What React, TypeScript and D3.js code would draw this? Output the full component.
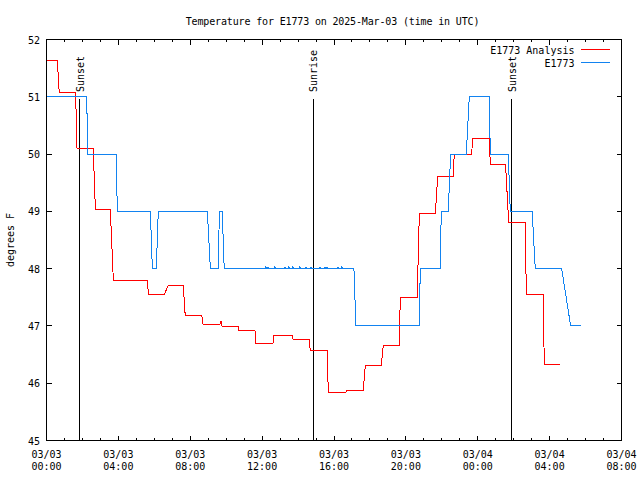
import React from "react";
import * as d3 from "d3";

const title = "Temperature for E1773 on 2025-Mar-03 (time in UTC)";
const yLabel = "degrees F";
const seriesNames = ["E1773 Analysis", "E1773"];
const seriesColors = ["#ff0000", "#1283f0"];

// hours since 2025-03-03 00:00 UTC
const analysisHours = [
  0, 0.6, 0.71, 1.62, 1.7, 2.6, 2.72, 3.55, 3.72, 5.61, 5.67, 6.56, 6.78, 7.61, 7.72, 8.64, 8.71,
  9.65, 9.71, 9.77, 10.66, 10.71, 11.6, 11.66, 12.6, 12.66, 13.66, 13.72, 14.62, 14.68, 15.63, 15.68,
  16.65, 16.71, 17.63, 17.74, 18.63, 18.74, 19.63, 19.69, 20.63, 20.75, 21.64, 21.77, 22.64, 22.69,
  23.66, 23.72, 24.64, 24.7, 25.55, 25.72, 26.65, 26.7, 27.65, 27.7, 28.58,
];
const analysisValues = [
  51.63, 51.63, 51.07, 51.07, 50.09, 50.09, 49.04, 49.04, 47.8, 47.8, 47.555, 47.555, 47.71, 47.71,
  47.18, 47.18, 47.03, 47.03, 47.08, 46.99, 46.99, 46.925, 46.925, 46.69, 46.69, 46.84, 46.84, 46.77,
  46.77, 46.57, 46.57, 45.83, 45.83, 45.87, 45.87, 46.31, 46.31, 46.66, 46.66, 47.5, 47.5, 48.97,
  48.97, 49.61, 49.61, 50.0, 50.0, 50.28, 50.28, 49.81, 49.81, 48.81, 48.81, 47.55, 47.55, 46.33,
  46.33,
];
const obsHours = [
  0, 2.24, 2.29, 3.88, 3.94, 5.78, 5.89, 6.11, 6.22, 8.95, 9.12, 9.56, 9.62, 9.78, 9.89,
  12.18, 12.21, 12.24, 12.3, 12.33, 12.36, 12.68, 12.71, 12.74, 13.24, 13.27, 13.3,
  13.46, 13.49, 13.52, 13.68, 13.71, 13.74, 14.07, 14.1, 14.13, 14.41, 14.44, 14.47,
  14.69, 14.72, 14.75, 15.19, 15.22, 15.25, 15.47, 15.5, 15.53, 15.58, 15.61, 15.64,
  16.19, 16.22, 16.25, 16.41, 16.44, 16.47,
  17.11, 17.22, 20.75, 20.8, 21.91, 21.97, 22.36, 22.49, 23.36, 23.53, 24.64, 24.7, 25.7, 25.81,
  27.03, 27.2, 28.67, 29.17, 29.73,
];
const obsValues = [
  51, 51, 50, 50, 49, 49, 48, 48, 49, 49, 48, 48, 49, 49, 48,
  48, 48.03, 48, 48, 48.03, 48, 48, 48.03, 48, 48, 48.03, 48,
  48, 48.03, 48, 48, 48.03, 48, 48, 48.03, 48, 48, 48.03, 48,
  48, 48.03, 48, 48, 48.03, 48, 48, 48.03, 48, 48, 48.03, 48,
  48, 48.03, 48, 48, 48.03, 48,
  48, 47, 47, 48, 48, 49, 49, 50, 50, 51, 51, 50, 50, 49,
  49, 48, 48, 47, 47,
];

const sunEventNames = ["Sunset", "Sunrise", "Sunset"];
const sunEventHours = [1.86, 14.85, 25.89];

const yTicks = [45, 46, 47, 48, 49, 50, 51, 52];
const xTickHours = [0, 4, 8, 12, 16, 20, 24, 28, 32];
const xTickDates = ["03/03", "03/03", "03/03", "03/03", "03/03", "03/03", "03/04", "03/04", "03/04"];
const xTickTimes = ["00:00", "04:00", "08:00", "12:00", "16:00", "20:00", "00:00", "04:00", "08:00"];
const xMinorHours = d3.range(0, 33, 1);

const W = 640;
const H = 480;
const L = 46.5;
const R = 621.5;
const T = 39.5;
const B = 440.5;
const FONT = "'DejaVu Sans Mono', 'Liberation Mono', monospace";

export default function App() {
  const x = d3.scaleLinear().domain([0, 32]).range([L, R]);
  const y = d3.scaleLinear().domain([45, 52]).range([B, T]);
  const line = d3
    .line<[number, number]>()
    .x((d) => x(d[0]))
    .y((d) => y(d[1]));
  const analysis: [number, number][] = analysisHours.map((h, i) => [h, analysisValues[i]]);
  const obs: [number, number][] = obsHours.map((h, i) => [h, obsValues[i]]);
  const series = [analysis, obs];

  return (
    <svg
      width={W}
      height={H}
      style={{ position: "absolute", left: 0, top: 0, background: "#fff" }}
      fontFamily={FONT}
      fontSize={10}
    >
      <rect x={0} y={0} width={W} height={H} fill="#fff" />
      <text x={332.5} y={25} textAnchor="middle" letterSpacing={-0.15}>
        {title}
      </text>
      <text transform={`translate(13.5,240) rotate(-90)`} textAnchor="middle">
        {yLabel}
      </text>

      {/* ticks */}
      <g stroke="#000" strokeWidth={1} shapeRendering="crispEdges">
        {xMinorHours.map((h) => {
          const major = h % 4 === 0;
          const len = major ? 5 : 2.5;
          return (
            <g key={"xt" + h}>
              <line x1={x(h)} x2={x(h)} y1={B} y2={B - len} />
              <line x1={x(h)} x2={x(h)} y1={T} y2={T + len} />
            </g>
          );
        })}
        {yTicks.map((v) => (
          <g key={"yt" + v}>
            <line x1={L} x2={L + 5} y1={y(v)} y2={y(v)} />
            <line x1={R} x2={R - 5} y1={y(v)} y2={y(v)} />
          </g>
        ))}
      </g>

      {yTicks.map((v) => (
        <text key={"yl" + v} x={40} y={y(v) + 4} textAnchor="end">
          {v}
        </text>
      ))}
      {xTickHours.map((h, i) => (
        <g key={"xl" + h}>
          <text x={x(h)} y={458} textAnchor="middle">
            {xTickDates[i]}
          </text>
          <text x={x(h)} y={470} textAnchor="middle">
            {xTickTimes[i]}
          </text>
        </g>
      ))}

      {/* sun events */}
      {sunEventHours.map((h, i) => (
        <g key={"sun" + i}>
          <line
            x1={x(h)}
            x2={x(h)}
            y1={B}
            y2={99}
            stroke="#000"
            strokeWidth={1}
            shapeRendering="crispEdges"
          />
          <text transform={`translate(${x(h) + 4},92) rotate(-90)`} textAnchor="start">
            {sunEventNames[i]}
          </text>
        </g>
      ))}

      {/* series */}
      {series.map((s, i) => (
        <path
          key={"s" + i}
          d={line(s) || ""}
          fill="none"
          stroke={seriesColors[i]}
          strokeWidth={1}
          shapeRendering="crispEdges"
        />
      ))}

      {/* legend */}
      {seriesNames.map((n, i) => (
        <g key={"lg" + i}>
          <text x={574.5} y={54 + i * 13} textAnchor="end">
            {n}
          </text>
          <line
            x1={581}
            x2={610}
            y1={49.5 + i * 13}
            y2={49.5 + i * 13}
            stroke={seriesColors[i]}
            strokeWidth={1}
            shapeRendering="crispEdges"
          />
        </g>
      ))}

      <rect
        x={L}
        y={T}
        width={R - L}
        height={B - T}
        fill="none"
        stroke="#000"
        strokeWidth={1}
        shapeRendering="crispEdges"
      />
    </svg>
  );
}
